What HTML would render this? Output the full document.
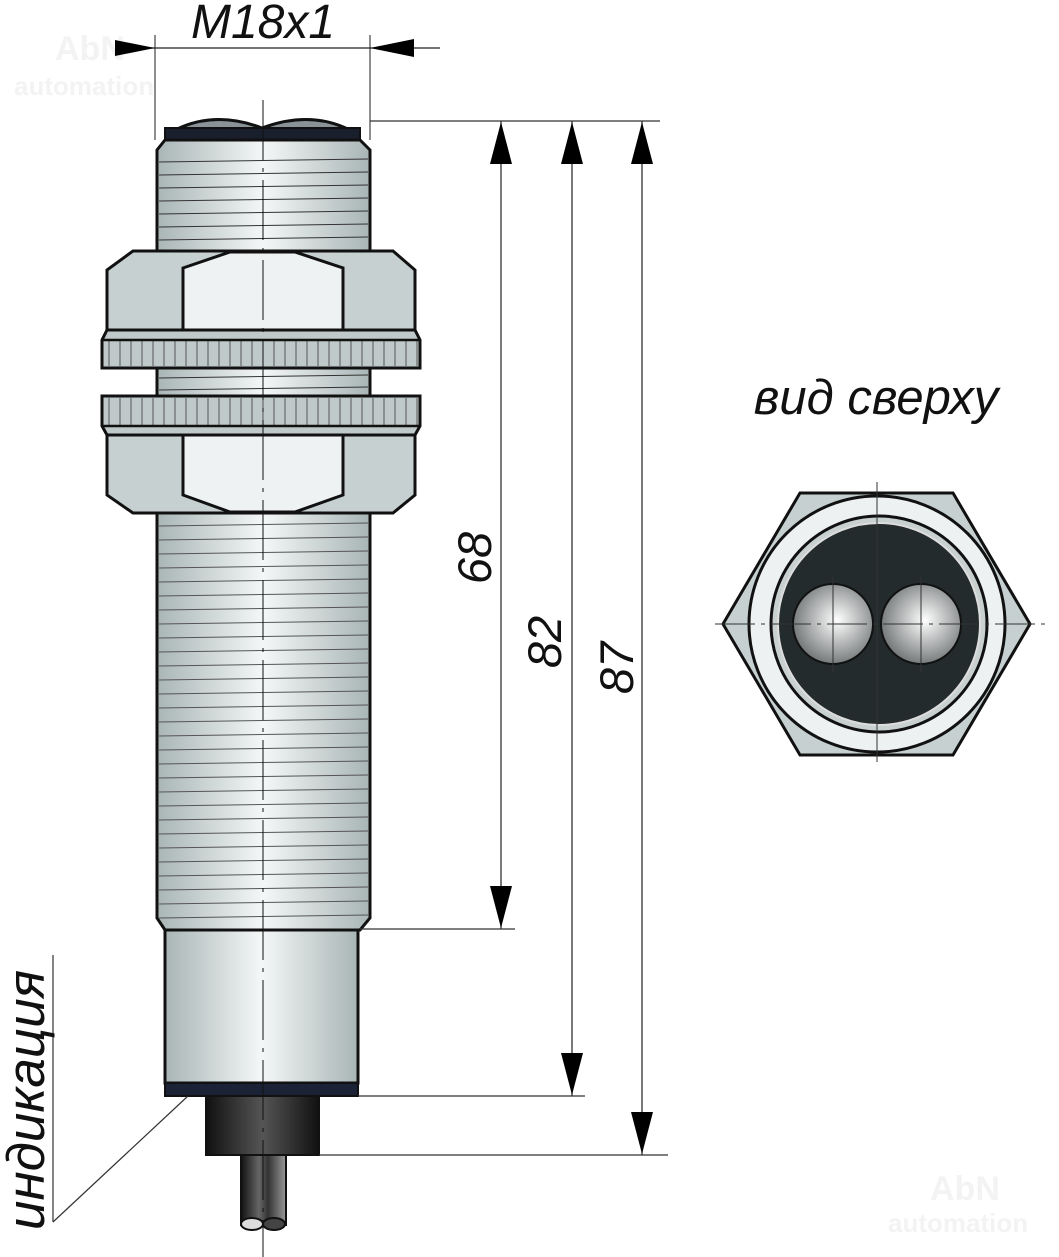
<!DOCTYPE html>
<html><head><meta charset="utf-8"><style>
html,body{margin:0;padding:0;background:#fff;}
svg{display:block;}
text{font-family:"Liberation Sans",sans-serif;font-style:italic;fill:#111;}
</style></head><body>
<svg width="1059" height="1257" viewBox="0 0 1059 1257" xmlns="http://www.w3.org/2000/svg">
<defs>
<linearGradient id="met" x1="0" x2="1" y1="0" y2="0">
<stop offset="0" stop-color="#a9b5b5"/><stop offset="0.5" stop-color="#f4f7f7"/><stop offset="1" stop-color="#a9b5b5"/>
</linearGradient>
<linearGradient id="dark" x1="0" x2="1"><stop offset="0" stop-color="#111"/><stop offset="0.5" stop-color="#555"/><stop offset="1" stop-color="#111"/></linearGradient>
<linearGradient id="cab" x1="0" x2="1"><stop offset="0" stop-color="#111"/><stop offset="0.4" stop-color="#666"/><stop offset="0.6" stop-color="#333"/><stop offset="1" stop-color="#999"/></linearGradient>
<radialGradient id="ball" cx="0.55" cy="0.45" r="0.6"><stop offset="0" stop-color="#fff"/><stop offset="1" stop-color="#6b6f70"/></radialGradient>
<pattern id="knurl" width="11" height="40" patternUnits="userSpaceOnUse"><rect width="11" height="40" fill="none"/><line x1="10" y1="0" x2="10" y2="40" stroke="#555" stroke-width="1"/></pattern>
</defs>
<text x="55" y="60" font-size="34" style="fill:#f3f3f3;font-style:normal;font-weight:bold">AbN</text>
<text x="14" y="95" font-size="26" style="fill:#f3f3f3;font-style:normal;font-weight:bold">automation</text>
<text x="930" y="1200" font-size="34" style="fill:#f3f3f3;font-style:normal;font-weight:bold">AbN</text>
<text x="888" y="1232" font-size="26" style="fill:#f3f3f3;font-style:normal;font-weight:bold">automation</text>

<line x1="155" y1="35" x2="155" y2="140" stroke="#444" stroke-width="1.2"/>
<line x1="370" y1="35" x2="370" y2="140" stroke="#444" stroke-width="1.2"/>
<line x1="115" y1="48" x2="440" y2="48" stroke="#222" stroke-width="1.2"/>
<polygon points="155,48 115,40 115,56" fill="#000"/>
<polygon points="370,48 414,39 414,57" fill="#000"/>
<text x="263" y="38" font-size="48" text-anchor="middle">M18x1</text>

<path d="M175,130 Q215,110 262,128 Q310,110 350,130 Z" fill="#8a9398" stroke="#111" stroke-width="3"/>
<rect x="165" y="128" width="195" height="12" fill="#1a1f2e" stroke="#111" stroke-width="2"/>
<path d="M165,140 L360,140 L370,150 L370,252 L157,252 L157,150 Z" fill="url(#met)" stroke="#111" stroke-width="3"/>
<g stroke="#333" stroke-width="1">
<line x1="159" y1="162" x2="368" y2="159"/><line x1="159" y1="175" x2="368" y2="172"/><line x1="159" y1="188" x2="368" y2="185"/><line x1="159" y1="201" x2="368" y2="198"/><line x1="159" y1="214" x2="368" y2="211"/><line x1="159" y1="227" x2="368" y2="224"/><line x1="159" y1="240" x2="368" y2="237"/>
</g>
<path d="M133,251 L393,251 L415,270 L415,330 L107,330 L107,270 Z" fill="#c6d0d0" stroke="#111" stroke-width="3"/>
<path d="M183,268 L230,252 L295,252 L343,268 L343,330 L183,330 Z" fill="#eef2f2" stroke="#111" stroke-width="3"/>
<path d="M107,330 L415,330 L420,340 L420,368 L102,368 L102,340 Z" fill="#c0c9c9" stroke="#111" stroke-width="3"/>
<rect x="104" y="340" width="314" height="26" fill="url(#knurl)"/>
<line x1="102" y1="340" x2="420" y2="340" stroke="#111" stroke-width="2.5"/>
<rect x="157" y="368" width="213" height="28" fill="url(#met)" stroke="#111" stroke-width="3"/>
<line x1="159" y1="378" x2="368" y2="375" stroke="#333"/><line x1="159" y1="390" x2="368" y2="387" stroke="#333"/>
<path d="M102,396 L420,396 L420,426 L415,435 L107,435 L102,426 Z" fill="#c0c9c9" stroke="#111" stroke-width="3"/>
<rect x="104" y="398" width="314" height="27" fill="url(#knurl)"/>
<line x1="102" y1="426" x2="420" y2="426" stroke="#111" stroke-width="2.5"/>
<path d="M107,435 L415,435 L415,495 L393,513 L133,513 L107,495 Z" fill="#c6d0d0" stroke="#111" stroke-width="3"/>
<path d="M183,435 L343,435 L343,495 L295,512 L230,512 L183,495 Z" fill="#eef2f2" stroke="#111" stroke-width="3"/>
<path d="M157,513 L370,513 L370,918 L360,930 L165,930 L157,918 Z" fill="url(#met)" stroke="#111" stroke-width="3"/>
<g stroke="#555" stroke-width="1">
<line x1="159" y1="526" x2="368" y2="523"/><line x1="159" y1="540" x2="368" y2="537"/><line x1="159" y1="554" x2="368" y2="551"/><line x1="159" y1="568" x2="368" y2="565"/><line x1="159" y1="582" x2="368" y2="579"/><line x1="159" y1="596" x2="368" y2="593"/><line x1="159" y1="610" x2="368" y2="607"/><line x1="159" y1="624" x2="368" y2="621"/><line x1="159" y1="638" x2="368" y2="635"/><line x1="159" y1="652" x2="368" y2="649"/><line x1="159" y1="666" x2="368" y2="663"/><line x1="159" y1="680" x2="368" y2="677"/><line x1="159" y1="694" x2="368" y2="691"/><line x1="159" y1="708" x2="368" y2="705"/><line x1="159" y1="722" x2="368" y2="719"/><line x1="159" y1="736" x2="368" y2="733"/><line x1="159" y1="750" x2="368" y2="747"/><line x1="159" y1="764" x2="368" y2="761"/><line x1="159" y1="778" x2="368" y2="775"/><line x1="159" y1="792" x2="368" y2="789"/><line x1="159" y1="806" x2="368" y2="803"/><line x1="159" y1="820" x2="368" y2="817"/><line x1="159" y1="834" x2="368" y2="831"/><line x1="159" y1="848" x2="368" y2="845"/><line x1="159" y1="862" x2="368" y2="859"/><line x1="159" y1="876" x2="368" y2="873"/><line x1="159" y1="890" x2="368" y2="887"/><line x1="159" y1="904" x2="368" y2="901"/><line x1="159" y1="918" x2="368" y2="915"/>
</g>
<rect x="165" y="930" width="193" height="153" fill="url(#met)" stroke="#111" stroke-width="3"/>
<rect x="165" y="1083" width="193" height="13" fill="#1c2235" stroke="#111" stroke-width="2"/>
<rect x="206" y="1096" width="113" height="59" fill="url(#dark)" stroke="#111" stroke-width="2"/>
<rect x="241" y="1155" width="45" height="70" fill="url(#cab)" stroke="#111" stroke-width="2"/>
<ellipse cx="252" cy="1224" rx="11" ry="6" fill="#ddd" stroke="#111" stroke-width="2"/>
<ellipse cx="274" cy="1224" rx="11" ry="6" fill="#444" stroke="#111" stroke-width="2"/>
<line x1="263" y1="100" x2="263" y2="1257" stroke="#111" stroke-width="1" stroke-dasharray="60,8,4,8"/>

<g stroke="#333" stroke-width="1.3">
<line x1="370" y1="121" x2="660" y2="121"/>
<line x1="360" y1="929" x2="515" y2="929"/>
<line x1="358" y1="1096" x2="585" y2="1096"/>
<line x1="319" y1="1155" x2="668" y2="1155"/>
<line x1="501" y1="121" x2="501" y2="929"/>
<line x1="572" y1="121" x2="572" y2="1096"/>
<line x1="642" y1="121" x2="642" y2="1155"/>
</g>
<g fill="#000">
<polygon points="501,122 490,164 512,164"/><polygon points="501,928 490,886 512,886"/>
<polygon points="572,122 561,164 583,164"/><polygon points="572,1095 561,1053 583,1053"/>
<polygon points="642,122 631,164 653,164"/><polygon points="642,1154 631,1112 653,1112"/>
</g>
<text transform="translate(491,558) rotate(-90)" font-size="47" text-anchor="middle">68</text>
<text transform="translate(561,642) rotate(-90)" font-size="47" text-anchor="middle">82</text>
<text transform="translate(633,668) rotate(-90)" font-size="47" text-anchor="middle">87</text>

<line x1="53" y1="955" x2="53" y2="1222" stroke="#333" stroke-width="1.2"/>
<line x1="53" y1="1222" x2="188" y2="1096" stroke="#333" stroke-width="1.2"/>
<text transform="translate(44,1100) rotate(-90)" font-size="53" text-anchor="middle">индикация</text>

<text x="876" y="414" font-size="49" text-anchor="middle">вид сверху</text>
<polygon points="800,493 953,493 1030,624 953,755 800,755 723,624" fill="#c6d0d0" stroke="#111" stroke-width="3"/>
<circle cx="877" cy="624" r="128" fill="#eef1f1" stroke="#111" stroke-width="3"/>
<circle cx="879" cy="624" r="108" fill="#c8d0d0" stroke="#111" stroke-width="3"/>
<circle cx="879" cy="624" r="101" fill="#232b2d" stroke="#ddd" stroke-width="2"/>
<circle cx="833" cy="624" r="40" fill="url(#ball)" stroke="#111" stroke-width="2"/>
<circle cx="921" cy="624" r="40" fill="url(#ball)" stroke="#111" stroke-width="2"/>
<g stroke="#333" stroke-width="1">
<line x1="715" y1="624" x2="1045" y2="624" stroke-dasharray="40,6,4,6"/>
<line x1="877" y1="482" x2="877" y2="762"/>
<line x1="833" y1="577" x2="833" y2="672"/>
<line x1="921" y1="577" x2="921" y2="672"/>
</g>
</svg>
</body></html>
